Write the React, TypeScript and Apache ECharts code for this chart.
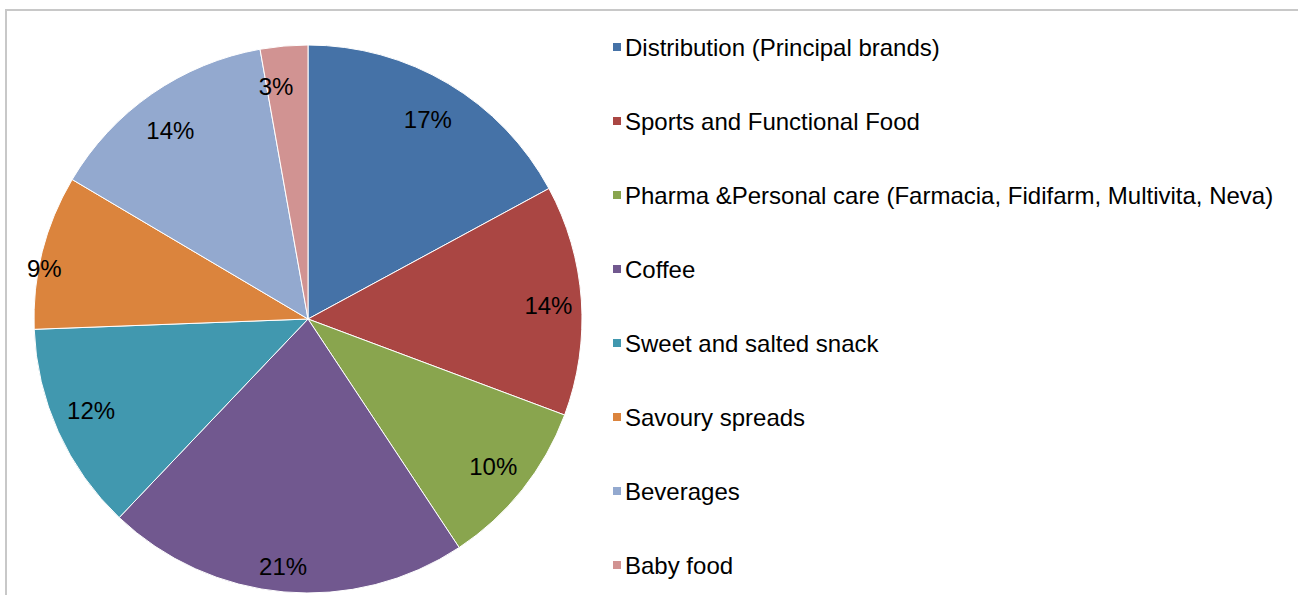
import React, { useEffect, useRef } from "react";
import * as echarts from "echarts";

const categories = [
  "Distribution (Principal brands)",
  "Sports and Functional Food",
  "Pharma &Personal care (Farmacia, Fidifarm, Multivita, Neva)",
  "Coffee",
  "Sweet and salted snack",
  "Savoury spreads",
  "Beverages",
  "Baby food",
];
const shares = [17.1, 13.6, 10.0, 21.4, 12.3, 9.1, 13.7, 2.8];
const colors = ["#4572A7", "#AA4643", "#89A54E", "#71588F", "#4198AF", "#DB843D", "#93A9CF", "#D19392"];
// fine adjustment of each data label's placement (pixels)
const labelNudges = [[-2, 5], [3, 3], [-1, -1], [-4, 10], [0, -6], [-33, 8], [-2, 7], [-11, 5]];

const FONT = "Liberation Sans, Arial, sans-serif";

export default function App() {
  const ref = useRef<HTMLDivElement>(null);
  useEffect(() => {
    if (!ref.current) return;
    const chart = echarts.init(ref.current, undefined, { renderer: "svg" });
    const data = categories.map((name, i) => ({ name, value: shares[i] }));
    chart.setOption({
      animation: false,
      color: colors,
      graphic: [
        {
          type: "rect",
          shape: { x: 6, y: 10, width: 1320, height: 620 },
          style: { fill: "none", stroke: "#c8c8c8", lineWidth: 2 },
          silent: true,
        },
      ],
      legend: {
        orient: "vertical",
        left: 606,
        top: 30,
        icon: "rect",
        itemWidth: 10,
        itemHeight: 10,
        itemGap: 50,
        textStyle: { fontFamily: FONT, fontSize: 24, color: "#000", lineHeight: 24, padding: [0, 0, 0, -2] },
        data: categories,
        selectedMode: false,
      },
      series: [
        {
          type: "pie",
          center: [308, 319],
          radius: [0, 274],
          startAngle: 90,
          clockwise: true,
          percentPrecision: 0,
          label: { show: false },
          labelLine: { show: false },
          itemStyle: { borderColor: "#ffffff", borderWidth: 1 },
          emphasis: { disabled: true },
          data,
        },
        {
          type: "pie",
          center: [308, 319],
          radius: [196, 274],
          startAngle: 90,
          clockwise: true,
          percentPrecision: 0,
          silent: true,
          legendHoverLink: false,
          itemStyle: { color: "rgba(0,0,0,0)", borderWidth: 0 },
          label: {
            show: true,
            position: "inside",
            formatter: "{d}%",
            fontFamily: FONT,
            fontSize: 24,
            color: "#000",
          },
          labelLine: { show: false },
          emphasis: { disabled: true },
          data: data.map((d, i) => ({ ...d, label: { offset: labelNudges[i] } })),
        },
      ],
    });
    return () => chart.dispose();
  }, []);
  return <div ref={ref} style={{ position: "absolute", left: 0, top: 0, width: 1298, height: 595, background: "#fff" }} />;
}
